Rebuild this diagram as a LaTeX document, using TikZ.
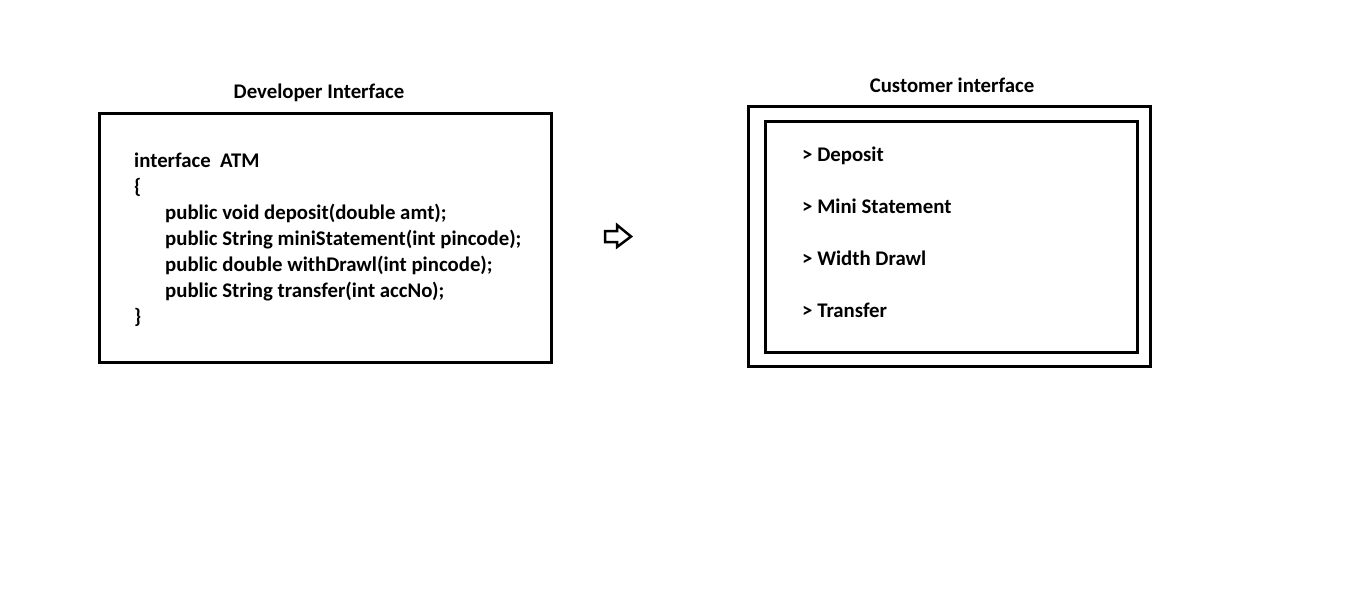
\documentclass[tikz,border=0pt]{standalone}
\usepackage{fontspec}
\setmainfont{Carlito}
\usepackage{tikz}
\usetikzlibrary{positioning}

\tikzset{
  frame/.style={draw,line width=3pt,inner sep=0pt},
  title/.style={font=\fontsize{20.8}{24}\selectfont\bfseries},
  codetext/.style={font=\fontsize{20.8}{26}\selectfont\bfseries,align=left,inner sep=0pt,anchor=base west},
}

\begin{document}
\begin{tikzpicture}[x=1pt,y=-1pt]
\useasboundingbox (0,0) rectangle (1360,613);

\node [frame,minimum width=452pt,minimum height=249pt](dev) at (325,237.5) {};
\node [title](devtitle) at (319,92.5) {Developer Interface};

% base of the last line
\node [codetext](code) at (134,323) {interface\ \ ATM\\
{\{}\\
\hspace*{31pt}public void deposit(double amt);\\
\hspace*{31pt}public String miniStatement(int pincode);\\
\hspace*{31pt}public double withDrawl(int pincode);\\
\hspace*{31pt}public String transfer(int accNo);\\
{\}}};

\draw [line width=2.5pt,line join=miter](605,231)--(617,231)--(617,225)--(631,236.5)--(617,247)--(617,242)--(605,242)--cycle;

\node [frame,minimum width=402pt,minimum height=260pt](cust) at (949,236) {};
\node [frame,minimum width=372pt,minimum height=231pt](custin) at (951,236.5) {};
\node [title](custtitle) at (952,85.5) {Customer interface};

\node [codetext](dep) at (802,161) {> Deposit};
\node [codetext](mini) at (802,213) {> Mini Statement};
\node [codetext](wd) at (802,265) {> Width Drawl};
\node [codetext](tr) at (802,317) {> Transfer};

\end{tikzpicture}
\end{document}
